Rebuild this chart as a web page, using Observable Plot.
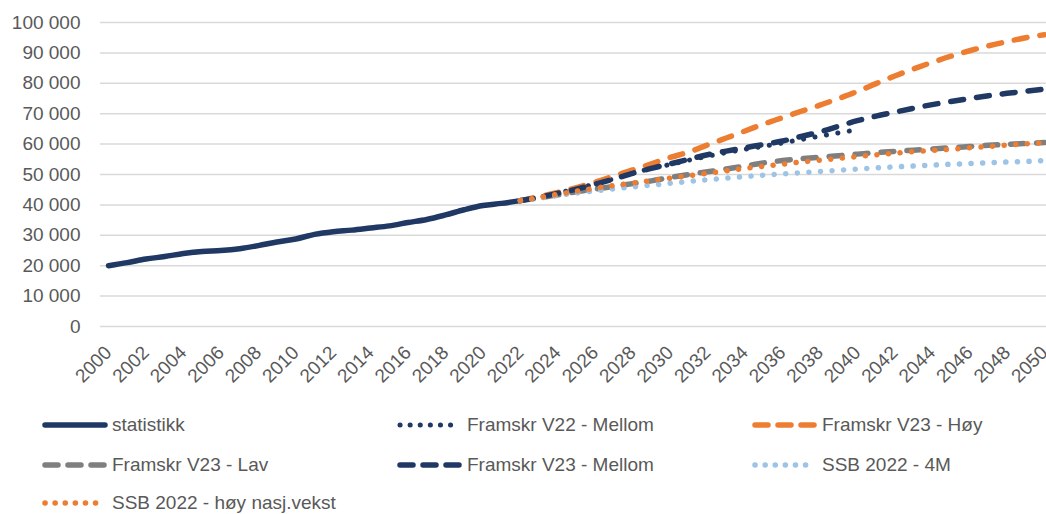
<!DOCTYPE html>
<html><head><meta charset="utf-8">
<script src="https://cdn.jsdelivr.net/npm/d3@7"></script>
<script src="https://cdn.jsdelivr.net/npm/@observablehq/plot@0.6"></script>
<style>
body{margin:0;background:#fff;font-family:"Liberation Sans",Arial,sans-serif;}
#legend{position:relative;width:1046px;height:114px;}
.item{position:absolute;display:flex;align-items:center;height:30px;font-size:19px;color:#595959;}
.item svg{margin-right:4px;}
</style></head>
<body>
<div id="chart"></div>
<div id="legend"></div>
<script>
const statYears = d3.range(2000, 2023);
const statistikk = [20000, 21000, 22200, 23000, 24000, 24700, 25000, 25600, 26600, 27800, 28800, 30300, 31200, 31700, 32400, 33100, 34200, 35200, 36700, 38400, 39800, 40500, 41400];
const projYears = d3.range(2022, 2051);
const v23Hoy = [41400, 42700, 44100, 45700, 47500, 49500, 51500, 53500, 55600, 57400, 59700, 62000, 64300, 66600, 68700, 70800, 72800, 75000, 77300, 79900, 82400, 84700, 86900, 88900, 90700, 92300, 93700, 95000, 96000];
const v23Mellom = [41400, 42500, 43800, 45200, 46800, 48500, 50400, 52000, 53500, 55000, 56500, 57700, 58800, 59900, 61000, 62500, 64000, 65900, 67700, 69200, 70500, 71800, 73000, 74000, 75000, 75900, 76700, 77400, 78100];
const v23Lav = [41400, 42300, 43300, 44300, 45200, 46100, 47000, 47900, 49000, 50000, 50900, 51800, 52800, 53800, 54600, 55200, 55700, 56200, 56700, 57200, 57600, 58000, 58400, 58800, 59200, 59600, 59900, 60200, 60500];
const ssb4M = [41400, 42200, 43100, 43900, 44600, 45300, 45900, 46500, 47100, 47700, 48300, 48800, 49300, 49800, 50200, 50600, 51000, 51400, 51800, 52200, 52500, 52800, 53100, 53400, 53600, 53900, 54100, 54300, 54600];
const ssbHoy = [41400, 42400, 43500, 44500, 45500, 46400, 47200, 48000, 48800, 49600, 50400, 51200, 52000, 52700, 53400, 54100, 54700, 55300, 55900, 56500, 57000, 57500, 57900, 58300, 58800, 59200, 59700, 60100, 60500];
const v22Years = d3.range(2022, 2041);
const v22Mellom = [41400, 42500, 43900, 45300, 46900, 48600, 50400, 52000, 53300, 54700, 56000, 57200, 58300, 59300, 60400, 61500, 62600, 63700, 64700];
const yTicks = d3.range(0, 100001, 10000);
const xTicks = d3.range(2000, 2051, 2);

const NAVY = "#203864", ORANGE = "#ED7D31", GRAY = "#7F7F7F", LBLUE = "#9DC3E6";
const DASH = "13,13", DOT = "0.1,11.5";

const series = [
  {name: "statistikk", years: statYears, values: statistikk, color: NAVY, dash: null, w: 5.5},
  {name: "Framskr V22 - Mellom", years: v22Years, values: v22Mellom, color: NAVY, dash: DOT, w: 5},
  {name: "Framskr V23 - Høy", years: projYears, values: v23Hoy, color: ORANGE, dash: DASH, w: 5.5},
  {name: "Framskr V23 - Lav", years: projYears, values: v23Lav, color: GRAY, dash: DASH, w: 5.5},
  {name: "Framskr V23 - Mellom", years: projYears, values: v23Mellom, color: NAVY, dash: DASH, w: 5.5},
  {name: "SSB 2022 - 4M", years: projYears, values: ssb4M, color: LBLUE, dash: DOT, w: 5.5},
  {name: "SSB 2022 - høy nasj.vekst", years: projYears, values: ssbHoy, color: ORANGE, dash: DOT, w: 5.5}
];

const fmt = d => d3.format(",")(d).replace(/,/g, " ");

const lineMarks = series.map(s => Plot.line(s.years.map((y, i) => ({year: y, value: s.values[i]})), {
  x: "year", y: "value", stroke: s.color, strokeWidth: s.w,
  strokeDasharray: s.dash, strokeLinecap: "round", strokeLinejoin: "round", curve: "monotone-x"
}));

const chart = Plot.plot({
  width: 1046, height: 400,
  marginLeft: 100, marginRight: 0, marginTop: 22, marginBottom: 74,
  insetLeft: 8, insetRight: 2,
  style: {fontFamily: "Liberation Sans, Arial, sans-serif", color: "#595959", background: "#fff"},
  x: {domain: [2000, 2050]},
  y: {domain: [0, 100000]},
  marks: [
    Plot.ruleY(yTicks, {stroke: "#D9D9D9", strokeWidth: 1.5}),
    Plot.axisY({ticks: yTicks, tickFormat: fmt, tickSize: 0, tickPadding: 20, fontSize: 19, label: null, fill: "#595959"}),
    Plot.axisX({ticks: xTicks, tickFormat: d => String(d), tickRotate: -45, tickSize: 0, tickPadding: 23, fontSize: 19, label: null, fill: "#595959"}),
    ...lineMarks
  ]
});
document.getElementById("chart").appendChild(chart);

const legendPos = [
  [42, 410], [397, 410], [752, 410],
  [42, 450], [397, 450], [752, 450],
  [42, 488]
];
const legend = document.getElementById("legend");
series.forEach((s, i) => {
  const div = document.createElement("div");
  div.className = "item";
  div.style.left = legendPos[i][0] + "px";
  div.style.top = (legendPos[i][1] - 400) + "px";
  const svg = d3.create("svg").attr("width", 66).attr("height", 30);
  svg.append("line").attr("x1", 3).attr("x2", 63).attr("y1", 15).attr("y2", 15)
    .attr("stroke", s.color).attr("stroke-width", s.w)
    .attr("stroke-linecap", "round")
    .attr("stroke-dasharray", s.dash === DASH ? "13,10" : s.dash === DOT ? "0.1,10" : null);
  div.appendChild(svg.node());
  const span = document.createElement("span");
  span.textContent = s.name;
  div.appendChild(span);
  legend.appendChild(div);
});
</script>
</body></html>
